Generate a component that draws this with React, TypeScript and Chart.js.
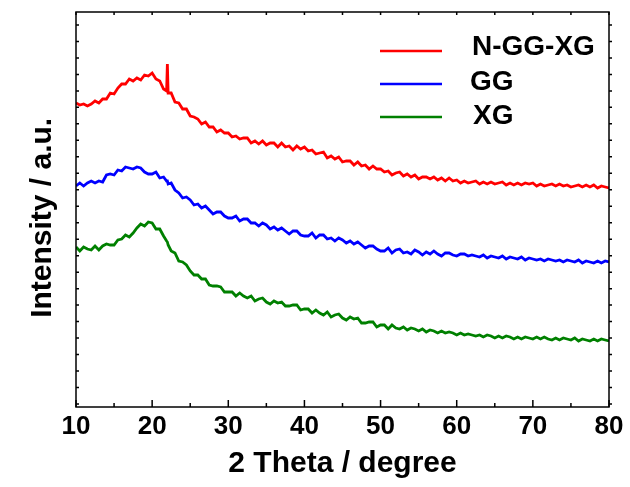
import React, { useEffect, useRef } from "react";
import { Chart, registerables } from "chart.js";

Chart.register(...registerables);

// 2θ positions (degree)
const theta = [
  10, 10.5, 11, 11.5, 12, 12.5, 13, 13.5, 14, 14.5,
  15, 15.5, 16, 16.5, 17, 17.5, 18, 18.5, 19, 19.5,
  20, 20.5, 21, 21.5, 21.9, 22, 22.1, 22.5, 23, 23.5, 24, 24.5,
  25, 25.5, 26, 26.5, 27, 27.5, 28, 28.5, 29, 29.5,
  30, 30.5, 31, 31.5, 32, 32.5, 33, 33.5, 34, 34.5,
  35, 35.5, 36, 36.5, 37, 37.5, 38, 38.5, 39, 39.5,
  40, 40.5, 41, 41.5, 42, 42.5, 43, 43.5, 44, 44.5,
  45, 45.5, 46, 46.5, 47, 47.5, 48, 48.5, 49, 49.5,
  50, 50.5, 51, 51.5, 52, 52.5, 53, 53.5, 54, 54.5,
  55, 55.5, 56, 56.5, 57, 57.5, 58, 58.5, 59, 59.5,
  60, 60.5, 61, 61.5, 62, 62.5, 63, 63.5, 64, 64.5,
  65, 65.5, 66, 66.5, 67, 67.5, 68, 68.5, 69, 69.5,
  70, 70.5, 71, 71.5, 72, 72.5, 73, 73.5, 74, 74.5,
  75, 75.5, 76, 76.5, 77, 77.5, 78, 78.5, 79, 79.5,
  80,
];

const seriesNames = ["N-GG-XG", "GG", "XG"];
const seriesColors = ["#ff0000", "#0000ff", "#008000"];

// intensities (a.u.)
const nggxg = [
  304, 302, 303, 301, 303, 306, 304, 308, 308, 314,
  313, 319, 323, 323, 328, 326, 329, 327, 332, 331,
  334, 328, 326, 318, 316, 343, 314, 314, 305, 304, 298, 298,
  291, 290, 288, 283, 285, 280, 280, 275, 277, 274,
  274, 270, 271, 268, 269, 269, 264, 266, 263, 266,
  262, 264, 264, 260, 264, 260, 261, 257, 261, 258,
  260, 256, 257, 253, 254, 255, 249, 251, 248, 250,
  245, 246, 246, 242, 245, 241, 242, 238, 241, 238,
  238, 235, 236, 232, 234, 235, 231, 233, 230, 232,
  228, 230, 230, 228, 230, 227, 229, 226, 229, 226,
  227, 224, 226, 224, 225, 226, 223, 225, 223, 225,
  223, 224, 225, 222, 224, 222, 224, 222, 224, 223,
  224, 221, 223, 221, 222, 223, 221, 223, 221, 222,
  220, 221, 222, 220, 222, 220, 222, 219, 221, 220,
  219,
];

const gg = [
  221, 224, 221, 224, 226, 224, 226, 225, 232, 233,
  232, 237, 236, 240, 239, 238, 240, 239, 235, 233,
  233, 235, 229, 230, 226, 226, 223, 224, 217, 214, 209, 210,
  207, 202, 203, 199, 201, 197, 193, 195, 195, 191,
  189, 189, 191, 186, 188, 188, 184, 184, 181, 184,
  182, 178, 180, 177, 179, 176, 173, 176, 176, 172,
  171, 171, 174, 169, 172, 172, 168, 169, 166, 169,
  167, 164, 166, 163, 165, 162, 159, 161, 161, 158,
  156, 156, 159, 154, 157, 158, 154, 155, 153, 157,
  155, 152, 155, 153, 156, 153, 151, 154, 154, 152,
  151, 153, 153, 151, 152, 151, 150, 152, 149, 151,
  150, 149, 151, 148, 150, 149, 148, 150, 147, 149,
  148, 147, 148, 146, 148, 147, 146, 147, 145, 147,
  146, 145, 147, 144, 146, 145, 144, 146, 144, 146,
  145,
];

const xg = [
  160, 156, 160, 158, 157, 161, 157, 161, 163, 162,
  162, 167, 168, 172, 170, 174, 179, 183, 181, 185,
  184, 178, 178, 171, 166, 165, 162, 156, 154, 146, 145, 142,
  136, 132, 132, 128, 128, 122, 121, 121, 120, 115,
  115, 115, 111, 114, 111, 109, 111, 106, 108, 109,
  105, 103, 106, 104, 105, 101, 101, 102, 102, 97,
  98, 98, 94, 97, 94, 92, 95, 90, 92, 93,
  89, 87, 90, 88, 89, 84, 84, 85, 85, 80,
  82, 82, 78, 82, 79, 78, 80, 77, 79, 78,
  76, 78, 75, 77, 76, 74, 76, 74, 75, 74,
  72, 74, 72, 73, 72, 71, 72, 70, 72, 71,
  69, 71, 69, 71, 70, 68, 70, 68, 70, 69,
  68, 70, 68, 70, 68, 67, 69, 67, 69, 68,
  67, 69, 66, 68, 67, 66, 68, 66, 68, 67,
  66,
];

const seriesValues = [nggxg, gg, xg];

const FONT = "'Liberation Sans', Arial, Helvetica, sans-serif";

const framePlugin = {
  id: "frameTicksLegend",
  afterDraw(chart: any) {
    const { ctx, chartArea: a, scales } = chart;
    const xs = scales.x;
    const ys = scales.y;
    ctx.save();
    ctx.strokeStyle = "#000";
    ctx.lineWidth = 1.5;
    ctx.strokeRect(a.left, a.top, a.right - a.left, a.bottom - a.top);
    ctx.beginPath();
    for (let v = 10; v <= 80; v += 5) {
      const px = xs.getPixelForValue(v);
      const len = v % 10 === 0 ? 7 : 4;
      ctx.moveTo(px, a.bottom);
      ctx.lineTo(px, a.bottom - len);
      ctx.moveTo(px, a.top);
      ctx.lineTo(px, a.top + 3);
    }
    for (let k = 0; k < 24; k++) {
      const py = ys.getPixelForValue(3 + k * 16.48);
      ctx.moveTo(a.left, py);
      ctx.lineTo(a.left + 3, py);
      ctx.moveTo(a.right, py);
      ctx.lineTo(a.right + 3, py);
    }
    ctx.stroke();

    // legend
    const lineY = [51, 84, 117];
    const textX = [472, 470, 473];
    const textY = [47, 82, 116];
    chart.data.datasets.forEach((ds: any, i: number) => {
      ctx.strokeStyle = ds.borderColor;
      ctx.lineWidth = 2.5;
      ctx.beginPath();
      ctx.moveTo(380, lineY[i]);
      ctx.lineTo(442, lineY[i]);
      ctx.stroke();
      ctx.fillStyle = "#000";
      ctx.font = `bold 28px ${FONT}`;
      ctx.textAlign = "left";
      ctx.textBaseline = "middle";
      ctx.fillText(ds.label, textX[i], textY[i]);
    });
    ctx.restore();
  },
};

export default function App() {
  const ref = useRef<HTMLCanvasElement | null>(null);

  useEffect(() => {
    if (!ref.current) return;
    const chart = new Chart(ref.current, {
      type: "line",
      data: {
        datasets: seriesNames.map((name, i) => ({
          label: name,
          data: theta.map((t, j) => ({ x: t, y: seriesValues[i][j] })),
          borderColor: seriesColors[i],
          backgroundColor: seriesColors[i],
          borderWidth: 2.8,
          pointRadius: 0,
          tension: 0,
          fill: false,
        })),
      },
      options: {
        responsive: false,
        animation: false,
        layout: { padding: { top: 12, right: 21, left: 0, bottom: 0 } },
        plugins: {
          legend: { display: false },
          tooltip: { enabled: false },
        },
        scales: {
          x: {
            type: "linear",
            min: 10,
            max: 80,
            grid: { display: false, drawTicks: false },
            border: { display: false },
            ticks: {
              stepSize: 10,
              color: "#000",
              padding: 4,
              font: { family: FONT, size: 26, weight: "bold" },
            },
            title: {
              display: true,
              text: "2 Theta / degree",
              color: "#000",
              padding: { top: 0, bottom: 5 },
              font: { family: FONT, size: 30, weight: "bold" },
            },
            afterFit: (s: any) => {
              s.height = 80;
            },
          },
          y: {
            type: "linear",
            min: 0,
            max: 395,
            grid: { display: false, drawTicks: false },
            border: { display: false },
            ticks: { display: false },
            title: {
              display: true,
              text: "Intensity / a.u.  ",
              color: "#000",
              padding: { top: 25, bottom: 0 },
              font: { family: FONT, size: 30, weight: "bold" },
            },
            afterFit: (s: any) => {
              s.width = 76;
            },
          },
        },
      },
      plugins: [framePlugin],
    });
    return () => chart.destroy();
  }, []);

  return (
    <div style={{ position: "absolute", left: 0, top: 0, width: 630, height: 487, background: "#fff" }}>
      <canvas ref={ref} width={630} height={487} style={{ display: "block" }} />
    </div>
  );
}
